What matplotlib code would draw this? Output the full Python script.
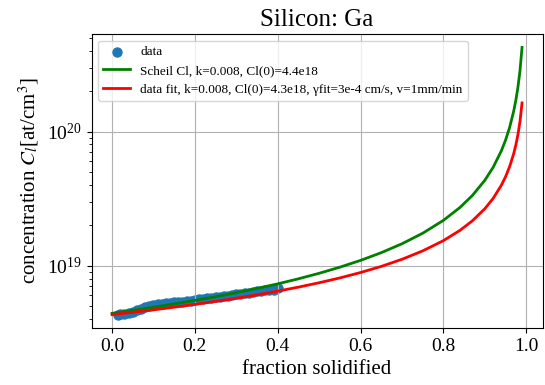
"""
Silicon: Ga - concentration in liquid vs. fraction solidified
"""
import matplotlib
matplotlib.use('Agg')
import matplotlib.pyplot as plt

# measured points (fraction solidified, concentration at/cm^3)
data_f = [0.015, 0.02, 0.03, 0.04, 0.05, 0.06, 0.07, 0.08, 0.09, 0.10,
          0.11, 0.12, 0.13, 0.14, 0.15, 0.16, 0.17, 0.18, 0.19, 0.20,
          0.21, 0.22, 0.23, 0.24, 0.25, 0.26, 0.27, 0.28, 0.29, 0.30,
          0.31, 0.32, 0.33, 0.34, 0.35, 0.36, 0.37, 0.38, 0.39, 0.40]
data_c = [4.30e18, 4.33e18, 4.38e18, 4.44e18, 4.52e18, 4.62e18, 4.74e18, 4.88e18, 4.99e18, 5.06e18,
          5.12e18, 5.17e18, 5.22e18, 5.27e18, 5.30e18, 5.33e18, 5.37e18, 5.42e18, 5.48e18, 5.53e18,
          5.58e18, 5.64e18, 5.69e18, 5.75e18, 5.80e18, 5.84e18, 5.88e18, 5.95e18, 6.02e18, 6.08e18,
          6.14e18, 6.22e18, 6.29e18, 6.35e18, 6.42e18, 6.48e18, 6.52e18, 6.56e18, 6.62e18, 6.80e18]

# curves
curve_f = [0.0, 0.05, 0.10, 0.15, 0.20, 0.25, 0.30, 0.35, 0.40, 0.45,
           0.50, 0.55, 0.60, 0.65, 0.70, 0.75, 0.80, 0.84, 0.87, 0.90,
           0.92, 0.94, 0.95, 0.96, 0.97, 0.975, 0.98, 0.985, 0.99]
scheil_c = [4.40e18, 4.63e18, 4.88e18, 5.17e18, 5.49e18, 5.85e18, 6.27e18, 6.75e18, 7.30e18, 7.96e18,
            8.75e18, 9.72e18, 1.092e19, 1.247e19, 1.453e19, 1.741e19, 2.172e19, 2.710e19, 3.330e19, 4.320e19,
            5.39e19, 7.17e19, 8.59e19, 1.072e20, 1.426e20, 1.709e20, 2.132e20, 2.836e20, 4.242e20]
fit_c = [4.30e18, 4.48e18, 4.67e18, 4.89e18, 5.13e18, 5.40e18, 5.70e18, 6.04e18, 6.44e18, 6.90e18,
         7.44e18, 8.08e18, 8.87e18, 9.85e18, 1.113e19, 1.286e19, 1.533e19, 1.829e19, 2.155e19, 2.651e19,
         3.163e19, 3.970e19, 4.585e19, 5.469e19, 6.864e19, 7.93e19, 9.45e19, 1.187e20, 1.634e20]

plt.rcParams['font.family'] = ['Liberation Serif', 'DejaVu Serif']
plt.rcParams['mathtext.fontset'] = 'stix'

fig = plt.figure(figsize=(5.45, 3.85), dpi=100)
ax = fig.add_axes([0.168, 0.148, 0.8275, 0.7636])

ax.scatter(data_f, data_c, s=42, color='#1f77b4', label='data')
ax.plot(curve_f, scheil_c, color='green', linewidth=2,
        label='Scheil Cl, k=0.008, Cl(0)=4.4e18')
ax.plot(curve_f, fit_c, color='red', linewidth=2,
        label='data fit, k=0.008, Cl(0)=4.3e18, \u03b3fit=3e-4 cm/s, v=1mm/min')

ax.set_yscale('log')
ax.grid(True)
ax.tick_params(labelsize=14)
ax.set_xlabel('fraction solidified', fontsize=15)
ax.set_ylabel('concentration $C_l$[at/cm$^3$]', fontsize=15)
ax.set_title('Silicon: Ga', fontsize=18)
ax.legend(loc='upper left', fontsize=9.5)

fig.savefig('out.png', dpi=100)
